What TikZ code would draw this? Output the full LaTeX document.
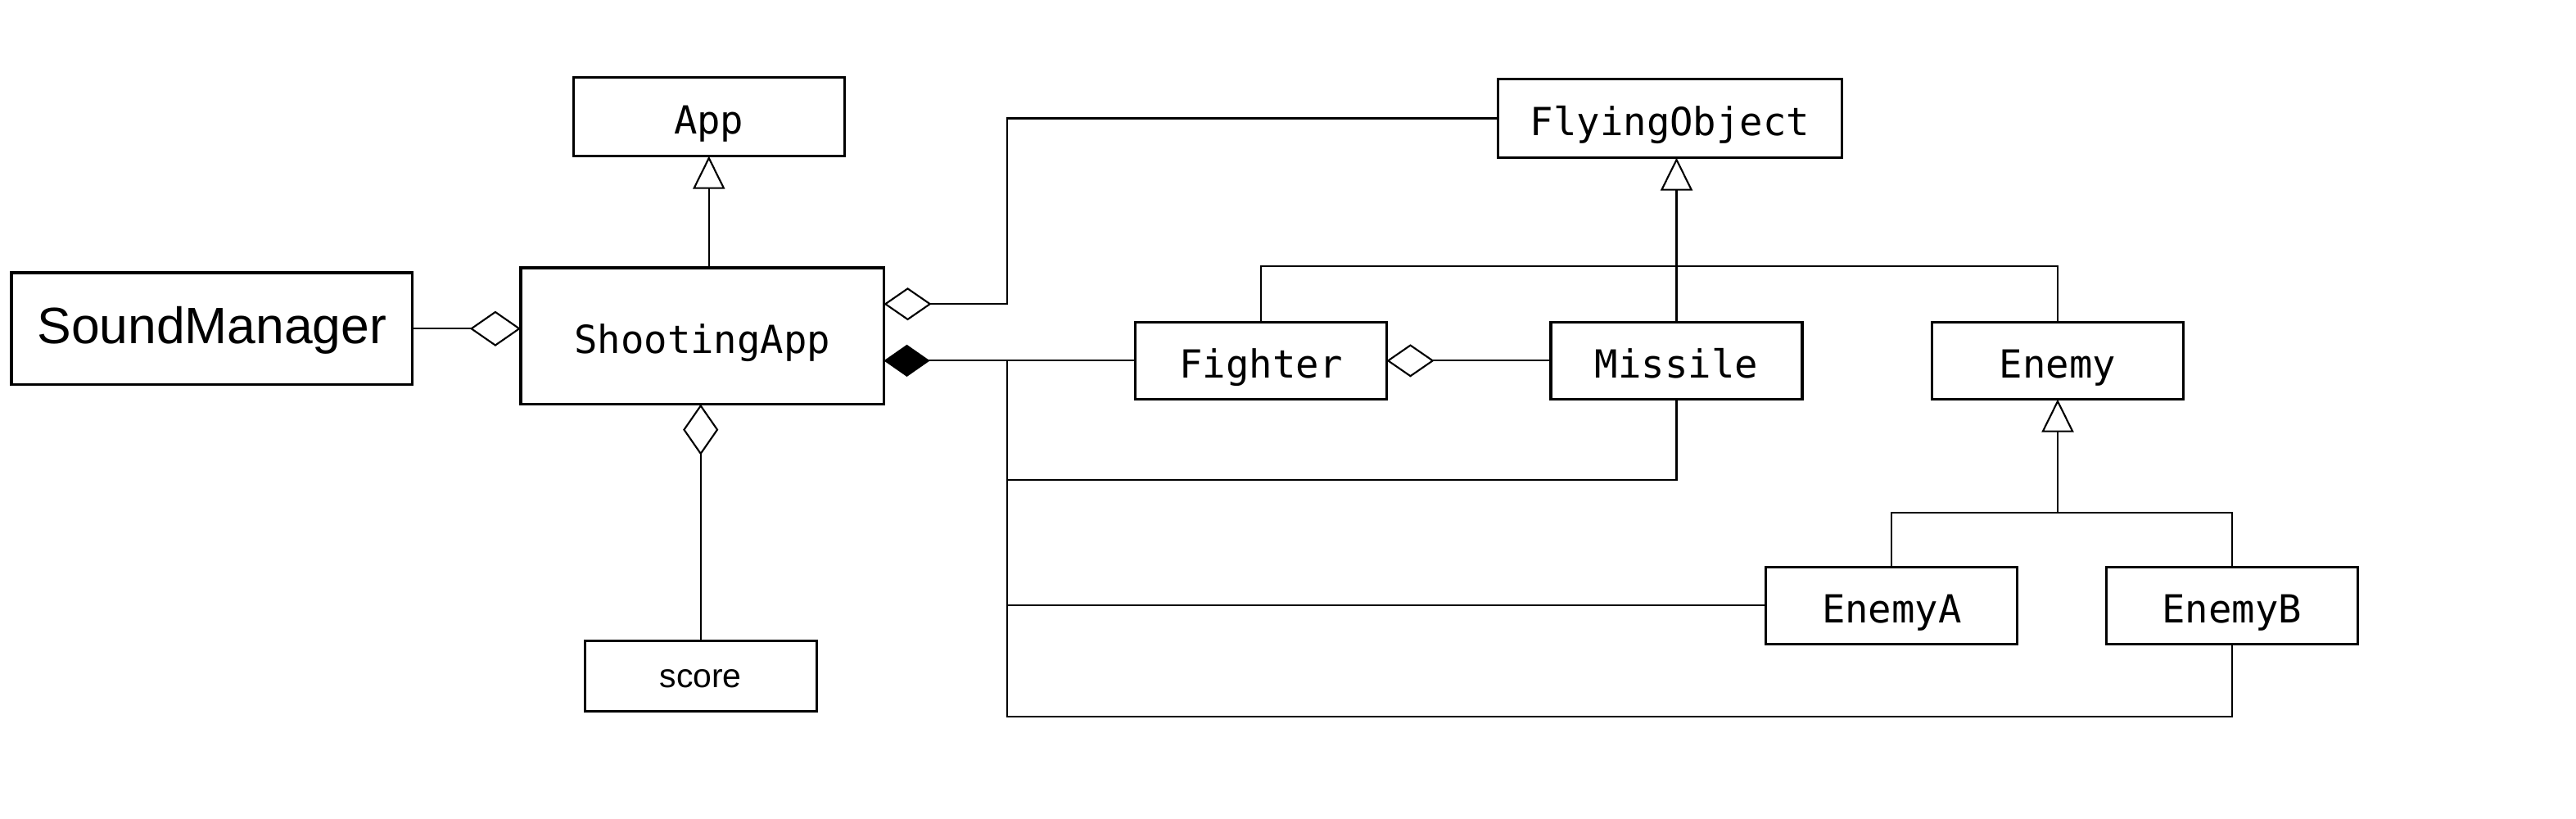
\documentclass[tikz,border=0pt]{standalone}
\usepackage{fontspec}
\setmonofont{DejaVu Sans Mono}
\setsansfont{Liberation Sans}
\usepackage{tikz}
\usetikzlibrary{arrows.meta,positioning,calc}

\begin{document}
\begin{tikzpicture}[
klass/.style={draw,line width=0.9pt,outer sep=0pt,minimum width=3.06cm,minimum height=0.94cm,inner sep=0pt,text height=4.2mm,text depth=0pt,font=\fontsize{13.4}{16}\selectfont\ttfamily},
plain/.style={draw,line width=0.9pt,outer sep=0pt,inner sep=0pt,text depth=0pt,font=\sffamily},
conn/.style={line width=0.6pt},
inh/.style={conn,-{Triangle[open,length=4mm,width=3.9mm]}},
agg/.style={conn,-{Diamond[open,length=5.8mm,width=4mm]}},
bigagg/.style={conn,-{Diamond[open,length=6.2mm,width=4.3mm]}},
comp/.style={conn,-{Diamond[length=5.6mm,width=3.9mm]}}
]
\useasboundingbox (0,0) rectangle (31.36,9.96);

\node[klass,minimum width=4.42cm,minimum height=1.66cm] (shoot) at (8.55,5.87) {ShootingApp};
\node[klass,minimum width=3.3cm,minimum height=0.96cm,above=1.36cm of shoot,xshift=0.8mm] (app) {App};
\node[plain,minimum width=4.88cm,minimum height=1.36cm,text height=3.6mm,font=\fontsize{17.7}{20}\selectfont\sffamily,left=1.32cm of shoot,yshift=0.9mm] (sound) {SoundManager};
\node[plain,minimum width=2.82cm,minimum height=0.86cm,text height=2.7mm,font=\fontsize{11.6}{14}\selectfont\sffamily,below=2.88cm of shoot,xshift=-0.2mm] (score) {score};

\node[klass,right=3.06cm of shoot,yshift=-3mm] (fighter) {Fighter};
\node[klass,right=2cm of fighter] (missile) {Missile};
\node[klass,right=1.58cm of missile] (enemy) {Enemy};
\node[klass,minimum width=4.18cm,minimum height=0.96cm,above=2cm of missile,xshift=-0.8mm] (flying) {FlyingObject};
\node[klass,below=2.04cm of enemy,xshift=-2.02cm] (enemyA) {EnemyA};
\node[klass,right=1.08cm of enemyA] (enemyB) {EnemyB};

\coordinate (bus) at ([xshift=15mm]shoot.east);
\coordinate (aggfly) at ([yshift=3.9mm]shoot.east);
\coordinate (forkE) at ([yshift=6.6mm]enemyA.north);

\draw[inh] (app.south |- shoot.north) -- (app.south);
\draw[bigagg] (sound.east) -- (sound.east -| shoot.west);
\draw[bigagg] (score.north) -- (score.north |- shoot.south);
\draw[agg] (flying.west) -| (bus |- aggfly) -- (aggfly);
\draw[comp] (fighter.west) -- (fighter.west -| shoot.east);
\draw[agg] (missile.west) -- (fighter.east);

\draw[conn] (missile.south) -- ++(0,-0.98) -| (bus |- fighter.west);
\draw[conn] (enemyA.west) -- (enemyA.west -| bus);
\draw[conn] (enemyB.south) -- ++(0,-0.88) -| (bus |- fighter.west);

\draw[conn] (fighter.north) -- ++(0,0.68) -| (enemy.north);
\draw[inh] (missile.north) -- (missile.north |- flying.south);
\draw[conn] (enemyA.north) -- ++(0,0.66) -| (enemyB.north);
\draw[inh] (forkE -| enemy.south) -- (enemy.south);
\end{tikzpicture}
\end{document}
